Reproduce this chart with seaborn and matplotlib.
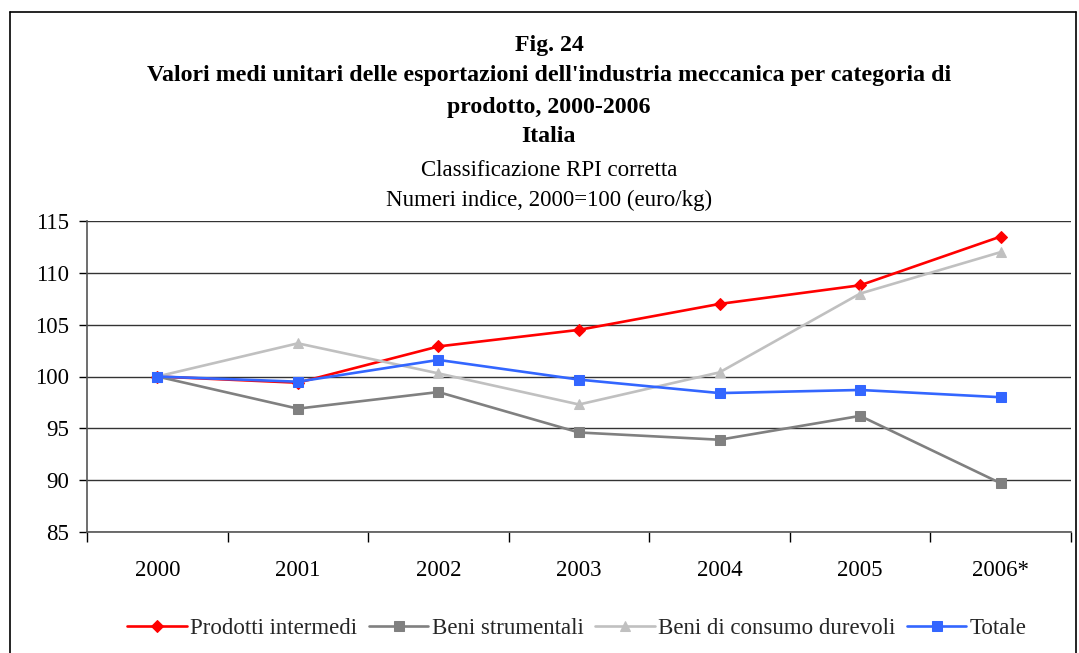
import matplotlib
matplotlib.use("Agg")
import matplotlib.pyplot as plt
from matplotlib.lines import Line2D
import numpy as np
import pandas as pd
import seaborn as sns

years = ["2000", "2001", "2002", "2003", "2004", "2005", "2006*"]
prodotti_intermedi = [100.0, 99.4, 102.9, 104.5, 107.0, 108.8, 113.5]
beni_strumentali = [100.0, 96.9, 98.5, 94.6, 93.9, 96.2, 89.7]
beni_consumo_durevoli = [100.0, 103.2, 100.3, 97.3, 100.4, 108.0, 112.0]
totale = [100.0, 99.5, 101.6, 99.7, 98.4, 98.7, 98.0]

series_names = ["Prodotti intermedi", "Beni strumentali",
                "Beni di consumo durevoli", "Totale"]
series_values = [prodotti_intermedi, beni_strumentali,
                 beni_consumo_durevoli, totale]
colors = ["#FF0000", "#808080", "#C0C0C0", "#3366FF"]
markers = ["D", "s", "^", "s"]
msizes = [6, 7, 7, 7.5]

rows = []
for name, vals in zip(series_names, series_values):
    for i, v in enumerate(vals):
        rows.append({"pos": i, "serie": name, "valore": v})
df = pd.DataFrame(rows)

sns.set_theme(style="white")
plt.rcParams["font.family"] = ["Liberation Serif", "DejaVu Serif"]

FS = 16.5
FS_TITLE = 17.2

fig = plt.figure(figsize=(10.79, 6.53), dpi=100)
ax = fig.add_axes([87 / 1079, 1 - 532 / 653, (1071 - 87) / 1079, (532 - 221) / 653])

for name, col, mk, ms in zip(series_names, colors, markers, msizes):
    sub = df[df["serie"] == name]
    sns.lineplot(data=sub, x="pos", y="valore", ax=ax, color=col, marker=mk,
                 markersize=ms, markeredgecolor=col, linewidth=1.9,
                 label=name, zorder=3)

ax.set_xlim(-0.5, len(years) - 0.5)
ax.set_ylim(85, 115)
ax.set_yticks(np.arange(85, 116, 5))
ax.set_xticks(range(len(years)))
ax.set_xticklabels(years)
ax.set_xticks(np.arange(-0.5, len(years), 1.0), minor=True)
ax.tick_params(axis="x", which="major", length=0, pad=20, labelsize=FS, colors="black")
ax.tick_params(axis="x", which="minor", length=7, width=1.0, direction="out", color="black", bottom=True)
ax.tick_params(axis="y", which="major", length=6, width=1.0, direction="out", color="black",
               left=True, pad=7, labelsize=FS, labelcolor="black")
ax.set_xlabel("")
ax.set_ylabel("")

ax.yaxis.grid(True, color="#333333", linewidth=1.0)
ax.set_axisbelow(True)
for s in ["top", "right"]:
    ax.spines[s].set_visible(False)
ax.spines["left"].set_color("#555555")
ax.spines["bottom"].set_color("#555555")
ax.spines["left"].set_linewidth(1.2)
ax.spines["bottom"].set_linewidth(1.2)

leg = ax.get_legend()
handles, labels = ax.get_legend_handles_labels()
leg.remove()
fig.legend(handles, labels, loc="center", bbox_to_anchor=(577 / 1079, 1 - 628 / 653),
           ncol=4, frameon=False, fontsize=FS, handlelength=2.6,
           handletextpad=0.15, columnspacing=0.5)

cx = 549 / 1079
title_lines = [
    ("Fig. 24", "bold", 45),
    ("Valori medi unitari delle esportazioni dell'industria meccanica per categoria di", "bold", 76),
    ("prodotto, 2000-2006", "bold", 107),
    ("Italia", "bold", 137),
    ("Classificazione RPI corretta", "normal", 170),
    ("Numeri indice, 2000=100 (euro/kg)", "normal", 200),
]
for txt, wt, yp in title_lines:
    fig.text(cx, 1 - yp / 653, txt, ha="center", va="center",
             fontsize=FS_TITLE if wt == "bold" else FS,
             fontweight=wt, color="black")

# frame around the whole chart
x0, x1, y0 = 10 / 1079, 1076 / 1079, 1 - 12 / 653
for xs, ys in [([x0, x1], [y0, y0]), ([x0, x0], [y0, -0.1]), ([x1, x1], [y0, -0.1])]:
    fig.add_artist(Line2D(xs, ys, transform=fig.transFigure, color="black", linewidth=1.2))

fig.savefig("out.png", dpi=100)
